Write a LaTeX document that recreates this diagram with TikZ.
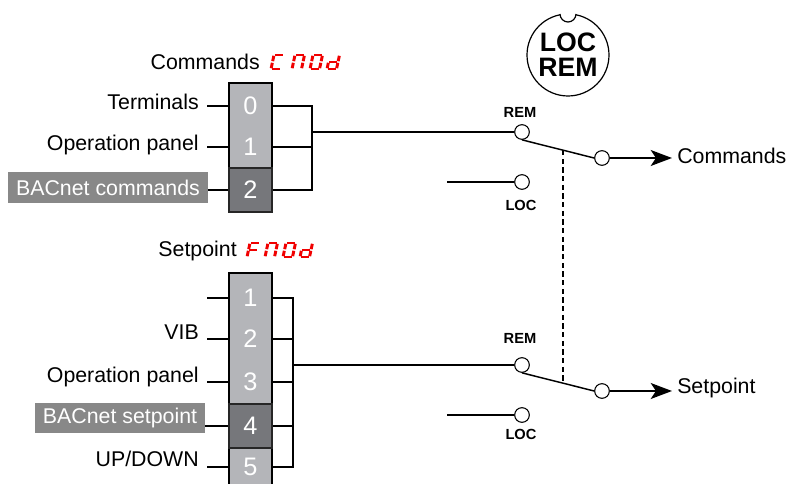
\documentclass[tikz,border=0pt]{standalone}
\usepackage{fontspec}
\setmainfont{Liberation Sans}
\usetikzlibrary{arrows.meta}

\definecolor{colgray}{RGB}{180,181,185}
\definecolor{selgray}{RGB}{118,119,123}
\definecolor{taggray}{RGB}{136,136,136}
\definecolor{segred}{RGB}{240,0,0}

\tikzset{
  wire/.style={line width=0.9pt},
  lbl/.style={inner sep=0pt, inner xsep=6pt, anchor=base east, font=\fontsize{16pt}{19pt}\selectfont},
  outlbl/.style={inner sep=0pt, inner xsep=3.75pt, anchor=west, font=\fontsize{16pt}{19pt}\selectfont},
  digit/.style={minimum width=32.25pt, minimum height=31.5pt, inner sep=0pt, text=white,
    font=\fontsize{19pt}{22pt}\selectfont},
  seldigit/.style={digit, minimum height=33pt, fill=selgray, draw=black!85, line width=0.9pt},
  tagbox/.style={fill=taggray, text=white, inner sep=0pt, font=\fontsize{16pt}{19pt}\selectfont},
  contact/.style={circle, draw, fill=white, minimum size=11pt, inner sep=0pt, line width=0.8pt},
  poslbl/.style={font=\bfseries\fontsize{11pt}{13pt}\selectfont, inner sep=0pt},
  blade/.style={line width=1.1pt},
  outwire/.style={line width=1.3pt, -{Stealth[length=16pt,width=12pt,inset=4pt]}},
  knob/.style={circle, draw, line width=0.9pt, minimum size=61.5pt, inner sep=0pt, align=center,
    font=\bfseries\fontsize{20pt}{18.75pt}\selectfont},
  segline/.style={segred, line width=2.2pt, shorten <=0.6pt, shorten >=0.6pt},
}

% one seven-segment glyph, lower left corner at #1
\newcommand\segglyph[2]{%
  \begin{scope}[shift={#1}]
    \coordinate (BL) at (0,0);     \coordinate (BR) at (9.5,0);
    \coordinate (ML) at (1.5,-7); \coordinate (MR) at (11,-7);
    \coordinate (TL) at (3,-14);   \coordinate (TR) at (12.5,-14);
    \foreach \p/\q in {#2} \draw[segline] (\p) -- (\q);
  \end{scope}}

\begin{document}
\begin{tikzpicture}[x=0.75pt,y=-0.75pt]
\useasboundingbox (0,0) rectangle (794,484);

% commands selector
\node[lbl, inner xsep=0pt] (cmdtitle) at (260,70) {Commands};
\segglyph{(271,69)}{TL/TR,ML/TL,BL/ML,BL/BR}
\segglyph{(292,69)}{TL/TR,TR/MR,MR/BR,BL/ML,ML/TL}
\segglyph{(310,69)}{TL/TR,TR/MR,MR/BR,BL/BR,BL/ML,ML/TL}
\segglyph{(327,69)}{TR/MR,MR/BR,BL/BR,BL/ML,ML/MR}

\fill[colgray] (229,83) rectangle (272,212);
\draw[wire] (229,83) rectangle (272,212);
\node[digit] (c0) at (250.5,106) {0};
\node[digit] (c1) at (250.5,147) {1};
\node[seldigit] (c2) at (250.5,190) {2};

\node[lbl] (t0) at (207,110) {Terminals};
\node[lbl] (t1) at (207,151) {Operation panel};
\node[tagbox, minimum width=150pt, minimum height=23.25pt] (t2) at (108,187.5) {BACnet commands};
\draw[wire] (c0.west) -- (c0.west -| t0.east);
\draw[wire] (c1.west) -- (c1.west -| t1.east);
\draw[wire] (c2.west) -- (c2.west -| t2.east);

\coordinate (cbus) at (312,132);
\draw[wire] (c0.east) -- (c0.east -| cbus) -- (c2.east -| cbus) -- (c2.east);
\draw[wire] (c1.east) -- (c1.east -| cbus);

% setpoint selector
\node[lbl, inner xsep=0pt] (sptitle) at (237,257) {Setpoint};
\segglyph{(247,257)}{TL/TR,ML/TL,BL/ML,ML/MR}
\segglyph{(265,257)}{TL/TR,TR/MR,MR/BR,BL/ML,ML/TL}
\segglyph{(283,257)}{TL/TR,TR/MR,MR/BR,BL/BR,BL/ML,ML/TL}
\segglyph{(300,257)}{TR/MR,MR/BR,BL/BR,BL/ML,ML/MR}

\fill[colgray] (229,273) rectangle (272,484);
\draw[wire] (229,484) -- (229,273) -- (272,273) -- (272,484);
\node[digit] (s1) at (250.5,298) {1};
\node[digit] (s2) at (250.5,339) {2};
\node[digit] (s3) at (250.5,382) {3};
\node[seldigit] (s4) at (250.5,426) {4};
\node[digit] (s5) at (250.5,467) {5};

\coordinate (s1in) at (207,298);
\node[lbl] (u2) at (207,340) {VIB};
\node[lbl] (u3) at (207,383) {Operation panel};
\node[tagbox, minimum width=127.5pt, minimum height=22.5pt] (u4) at (120,418) {BACnet setpoint};
\node[lbl] (u5) at (207,467) {UP/DOWN};
\draw[wire] (s1.west) -- (s1in);
\draw[wire] (s2.west) -- (s2.west -| u2.east);
\draw[wire] (s3.west) -- (s3.west -| u3.east);
\draw[wire] (s4.west) -- (s4.west -| u4.east);
\draw[wire] (s5.west) -- (s5.west -| u5.east);

\coordinate (sbus) at (293,365);
\draw[wire] (s1.east) -- (s1.east -| sbus) -- (s5.east -| sbus) -- (s5.east);
\foreach \n in {s2,s3,s4}
  \draw[wire] (\n.east) -- (\n.east -| sbus);

% LOC/REM key
\node[knob] (knob) at (568,55) {LOC\\REM};
\fill[white] (568,14) circle (8);
\draw[wire] (560,14) arc (180:0:8);

% switches
\node[contact] (r1) at (522,132) {};
\node[contact] (l1) at (522,182) {};
\node[contact] (o1) at (602,158) {};
\node[poslbl] (r1lbl) at (520,112) {REM};
\node[poslbl] (l1lbl) at (521,205) {LOC};
\coordinate (l1in) at (447,182);
\draw[wire] (cbus) -- (r1.west);
\draw[wire] (l1in) -- (l1.west);
\draw[blade] (r1.south) -- (o1.west) coordinate[pos=0.566] (k1);
\node[outlbl] (cmdout) at (672,156) {Commands};
\draw[outwire] (o1.east) -- (o1.east -| cmdout.west);

\node[contact] (r2) at (522,365) {};
\node[contact] (l2) at (522,415) {};
\node[contact] (o2) at (602,391) {};
\node[poslbl] (r2lbl) at (520,338) {REM};
\node[poslbl] (l2lbl) at (521,434) {LOC};
\coordinate (l2in) at (447,415);
\draw[wire] (sbus) -- (r2.west);
\draw[wire] (l2in) -- (l2.west);
\draw[blade] (r2.south) -- (o2.west) coordinate[pos=0.566] (k2);
\node[outlbl] (spout) at (672,388) {Setpoint};
\draw[outwire] (o2.east) -- (o2.east -| spout.west);

\draw[line width=1.1pt, dash pattern=on 4pt off 2.5pt] (k1) -- (k2);
\end{tikzpicture}
\end{document}
